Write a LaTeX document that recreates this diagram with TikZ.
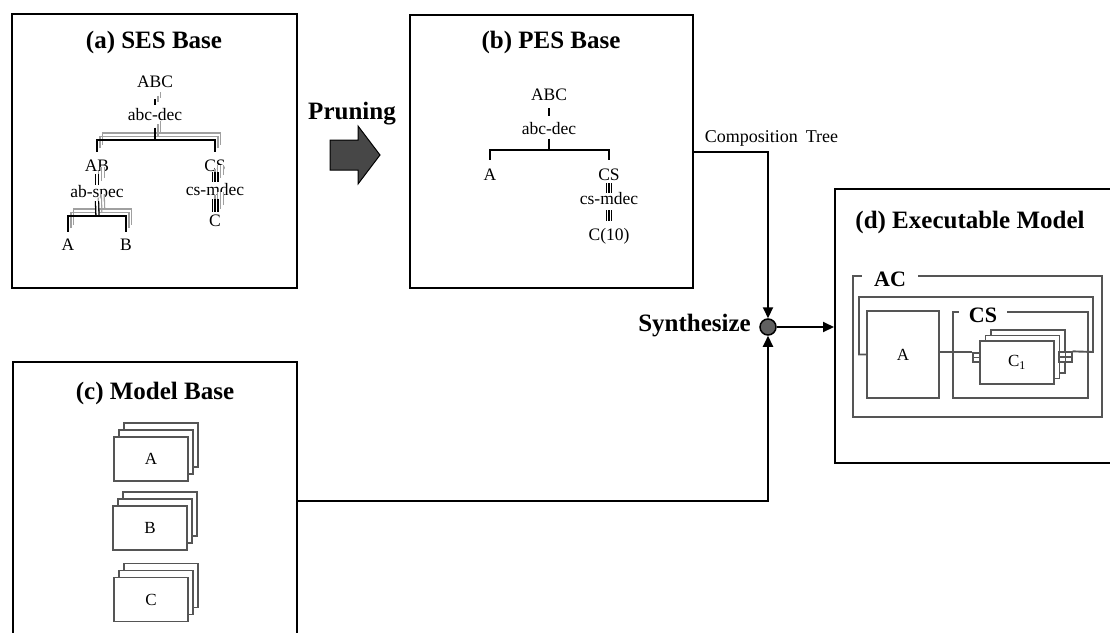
\documentclass[tikz,border=0pt]{standalone}
\usepackage{fontspec}
\setmainfont{Liberation Serif}
\usetikzlibrary{arrows.meta,calc}
\definecolor{dg}{HTML}{555555}
\definecolor{lg}{HTML}{A0A0A0}
\definecolor{arrowfill}{HTML}{474747}
\definecolor{synfill}{HTML}{606060}
\newcommand{\shd}[2]{%
  \draw[shad,#1,transform canvas={shift={(5.6,-7)}}] #2;
  \draw[shad,#1,transform canvas={shift={(2.8,-3.5)}}] #2;}
\begin{document}
\begin{tikzpicture}[x=1pt,y=-1pt,
  panel/.style={draw=black, line width=2pt, inner sep=0pt},
  ttl/.style={font=\bfseries\fontsize{25}{30}\selectfont, inner sep=0pt},
  lbl/.style={font=\fontsize{17.5}{20}\selectfont, inner sep=0pt},
  edgea/.style={line width=1.6pt, draw=black},
  shad/.style={line width=1.4pt, draw=lg},
  dbl/.style={double=white, double distance=1.8pt, line width=1.3pt},
  tplo/.style={double=white, double distance=4.6pt, line width=1.2pt},
  tplob/.style={double=white, double distance=4.2pt, line width=1.2pt},
  tplc/.style={line width=1.2pt},
  conn/.style={draw=black, line width=2pt},
  tip/.style={-{Triangle[length=11pt,width=10pt]}},
  mbox/.style={draw=dg, line width=1.7pt, fill=white, minimum width=74pt, minimum height=44pt, inner sep=0pt, font=\fontsize{17}{20}\selectfont},
  dline/.style={draw=dg, line width=1.9pt},
  dlab/.style={font=\bfseries\fontsize{22}{26}\selectfont, fill=white, inner ysep=2pt}
]
\useasboundingbox (0,0) rectangle (1110,632);
\clip (0,0) rectangle (1110,632);
\fill[white] (0,0) rectangle (1110,632);

% ---------- panels ----------
\node[panel, minimum width=285pt, minimum height=274pt] (pa) at (154.5,151) {};
\node[panel, minimum width=283pt, minimum height=273pt] (pb) at (551.5,151.5) {};
\node[panel, minimum width=284pt, minimum height=278pt] (pc) at (155,501) {};
\node[panel, minimum width=283pt, minimum height=274pt] (pd) at (976.5,326) {};

\node[ttl] (ta) at (154,42) {(a) SES Base};
\node[ttl] (tb) at (551,42) {(b) PES Base};
\node[ttl] (tc) at (155,393) {(c) Model Base};
\node[ttl] (td) at (970,222) {(d) Executable Model};

% ---------- (a) SES tree ----------
\node[lbl] (aABC) at (155,82) {ABC};
\node[lbl] (aabc) at (155,114.2) {abc-dec};
\coordinate (abar) at (155,140);
\node[lbl] (aAB) at (97,166) {AB};
\node[lbl] (aCS) at (215,166) {CS};
\node[lbl] (aabs) at (97,193) {ab-spec};
\coordinate (abbar) at (97.5,216);
\node[lbl] (aA) at (68,245) {A};
\node[lbl] (aB) at (126,245) {B};
\node[lbl] (acsm) at (215,189.2) {cs-mdec};
\node[lbl] (aC) at (215,220.5) {C};

% shadows
\shd{shorten <=11.4pt, shorten >=2.4pt}{(aABC.south) -- (aabc.north)}
\shd{shorten <=7pt}{(aabc.south) -- (abar)}
\shd{shorten <=8.4pt, shorten >=8.4pt}{(aAB.north) |- (abar) -| (aCS.north)}
\shd{dbl, shorten <=2pt, shorten >=0pt}{(aAB.south) -- (aabs.north)}
\shd{dbl}{(aabs.south) -- (abbar)}
\shd{shorten <=7.4pt, shorten >=7.4pt}{(aA.north) |- (abbar) -| (aB.north)}
\shd{tplo, shorten >=1pt}{(aCS.south) -- (acsm.north)}
\shd{tplc, shorten >=1pt}{(aCS.south) -- (acsm.north)}
\shd{tplo, shorten <=3pt, shorten >=2pt}{(acsm.south) -- (aC.north)}
\shd{tplc, shorten <=3pt, shorten >=2pt}{(acsm.south) -- (aC.north)}
% black
\draw[edgea, shorten <=11.4pt, shorten >=2.4pt] (aABC.south) -- (aabc.north);
\draw[edgea, shorten <=7pt] (aabc.south) -- (abar);
\draw[edgea, shorten <=8.4pt, shorten >=8.4pt] (aAB.north) |- (abar) -| (aCS.north);
\draw[edgea, dbl, shorten <=2pt, shorten >=0pt] (aAB.south) -- (aabs.north);
\draw[edgea, dbl] (aabs.south) -- (abbar);
\draw[edgea, shorten <=7.4pt, shorten >=7.4pt] (aA.north) |- (abbar) -| (aB.north);
\draw[edgea, tplo, shorten >=1pt] (aCS.south) -- (acsm.north);
\draw[edgea, tplc, shorten >=1pt] (aCS.south) -- (acsm.north);
\draw[edgea, tplo, shorten <=3pt, shorten >=2pt] (acsm.south) -- (aC.north);
\draw[edgea, tplc, shorten <=3pt, shorten >=2pt] (acsm.south) -- (aC.north);

% ---------- Pruning ----------
\node[ttl] (prun) at (352,113.5) {Pruning};
\draw[line width=1pt, fill=arrowfill] (330,140) -- (358,140) -- (358,126) -- (380,155) -- (358,184) -- (358,170) -- (330,170) -- cycle;

% ---------- (b) PES tree ----------
\node[lbl] (bABC) at (549,95) {ABC};
\node[lbl] (babc) at (549,128.2) {abc-dec};
\coordinate (bbar) at (549,150);
\node[lbl] (bA) at (490,175) {A};
\node[lbl] (bCS) at (609,175) {CS};
\node[lbl] (bcsm) at (609,198.2) {cs-mdec};
\node[lbl] (bC) at (609,236) {C(10)};
\draw[edgea, line width=1.8pt, shorten <=7.4pt, shorten >=5.4pt] (bABC.south) -- (babc.north);
\draw[edgea, line width=1.8pt, shorten <=4pt] (babc.south) -- (bbar);
\draw[edgea, line width=1.8pt, shorten <=9.4pt, shorten >=9.4pt] (bA.north) |- (bbar) -| (bCS.north);
\draw[edgea, tplob, shorten <=2pt, shorten >=-1pt] (bCS.south) -- (bcsm.north);
\draw[edgea, tplc, shorten <=2pt, shorten >=-1pt] (bCS.south) -- (bcsm.north);
\draw[edgea, tplob, shorten <=5.5pt, shorten >=6.5pt] (bcsm.south) -- (bC.north);
\draw[edgea, tplc, shorten <=5.5pt, shorten >=6.5pt] (bcsm.south) -- (bC.north);

% ---------- (c) Model base ----------
\node[mbox] (mA3) at (161,445) {};
\node[mbox] (mA2) at (156,452) {};
\node[mbox] (mA) at (151,459) {A};
\node[mbox] (mB3) at (160,514) {};
\node[mbox] (mB2) at (155,521) {};
\node[mbox] (mB) at (150,528) {B};
\node[mbox] (mC3) at (161,585.5) {};
\node[mbox] (mC2) at (156,592.5) {};
\node[mbox] (mC) at (151,599.5) {C};

% ---------- Synthesize ----------
\node[circle, draw=black, fill=synfill, line width=1.5pt, minimum size=16pt, inner sep=0pt] (syn) at (768,327) {};
\node[ttl, anchor=east] (synl) at (751,326) {Synthesize};
\node[lbl, font=\fontsize{18}{21}\selectfont] (comp) at (771.5,138.5) {Composition\hskip 8pt Tree};
\draw[conn, tip] (pb.east) -| (syn.north);
\draw[conn, tip] (pc.east) -| (syn.south);
\draw[conn, tip] (syn.east) -- (syn.east -| pd.west);

% ---------- (d) Executable model ----------
\draw[dline] (853,276) rectangle (1102,417);
\node[dlab, inner xsep=12pt] (acl) at (890,279) {AC};
\node[draw=dg, line width=1.9pt, minimum width=72pt, minimum height=87pt, inner sep=0pt, font=\fontsize{17}{20}\selectfont] (Ad) at (903,354.5) {A};
\draw[dline] (953,312) rectangle (1088,398);
\node[dlab, inner xsep=9.5pt] (csl) at (983,315.5) {CS};
\node[mbox, line width=1.9pt, minimum width=74pt, minimum height=43pt] (c3) at (1028,351.5) {};
\node[mbox, line width=1.9pt, minimum width=74pt, minimum height=43pt] (c2) at (1022.5,357) {};
\node[mbox, line width=1.9pt, minimum width=74pt, minimum height=43pt] (c1) at (1017,362.5) {C\textsubscript{1}};
\node[draw=dg, line width=1.3pt, fill=white, minimum width=7pt, minimum height=9pt, inner sep=0pt] (lp) at (976.5,357.5) {};
\draw[dg, line width=1.1pt] (lp.west) -- (lp.east);
\node[draw=dg, line width=1.3pt, fill=white, minimum width=13pt, minimum height=10pt, inner sep=0pt] (rp) at (1065.5,357) {};
\draw[dg, line width=1.1pt] (rp.west) -- (rp.east);
\draw[dg, line width=1.1pt] (rp.north) -- (rp.south);
\draw[dline] (lp.north west) -- (lp.north west -| Ad.east);
\draw[dline] (rp.north east) -- (1093,352) -- (1093,297) -- (859,297) |- (Ad.west);
\end{tikzpicture}
\end{document}
